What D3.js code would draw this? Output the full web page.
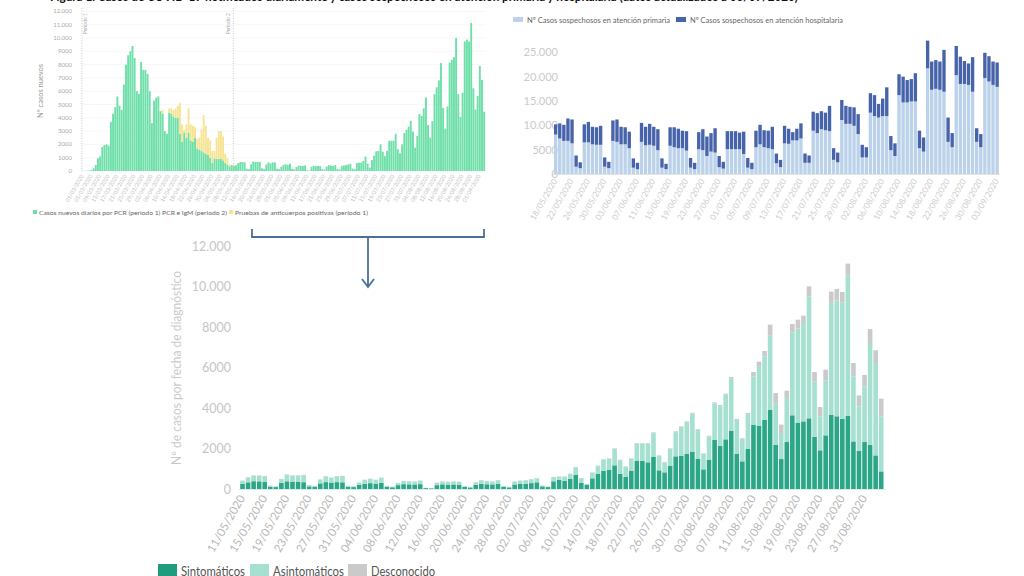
<!DOCTYPE html>
<html><head><meta charset="utf-8">
<script src="https://cdn.jsdelivr.net/npm/d3@7"></script>
<style>
body{margin:0;background:#fff}
svg{display:block}
text{font-family:Lato,"Open Sans",sans-serif}
</style>
</head><body>
<svg id="c" width="1024" height="576"></svg>
<script>
// ---------------- DATA ----------------
// Bottom chart: cases by diagnosis date, 11/05/2020 .. 03/09/2020
const bottomStart = "11/05/2020", bottomEnd = "03/09/2020";
const sintomaticos = [
 265,330,385,380,345,120,95,
 300,380,365,365,335,130,110,
 280,340,320,340,330,115,95,
 210,260,290,265,300,110,85,
 190,240,230,225,240,45,30,
 190,230,215,225,215,100,75,
 200,260,235,225,255,105,80,
 225,250,260,290,330,130,95,
 380,460,410,494,691,296,214,
 527,757,889,955,1169,757,593,
 905,1383,1390,1317,1580,922,823,
 1152,1613,1646,1745,1844,1481,971,
 1449,2436,2140,2453,2881,1728,1366,
 1975,3160,3130,3420,3920,2190,1480,
 2320,3640,3260,3340,3490,2570,1910,
 2650,3670,3590,3460,3620,2350,1890,
 2320,2190,1660,870];
const asintomaticos = [
 145,245,275,280,290,45,30,
 190,325,300,300,350,65,45,
 190,290,240,290,310,50,35,
 110,190,210,185,250,45,30,
 100,150,150,145,170,12,8,
 120,140,135,145,140,35,22,
 130,170,155,145,175,40,25,
 145,160,170,190,200,45,30,
 210,155,205,253,385,237,28,
 276,375,572,539,809,662,501,
 579,859,845,925,1178,711,485,
 821,1195,1409,1557,1886,1452,760,
 1145,1784,1948,2195,2590,1679,1096,
 1718,2400,2930,3130,3650,2020,1285,
 2170,4100,4660,4860,6020,2730,1680,
 2720,5520,5710,5760,6910,3210,2190,
 2750,5020,4560,2720];
const desconocido = [
 10,15,15,15,15,5,5,
 10,15,15,15,15,5,5,
 10,10,10,10,10,5,5,
 10,10,10,10,10,5,5,
 10,10,10,10,10,3,2,
 10,10,10,10,10,5,3,
 10,10,10,10,10,5,5,
 10,10,10,10,10,5,5,
 10,10,10,10,10,10,5,
 20,20,20,20,30,30,25,
 30,30,30,30,40,30,25,
 35,40,40,40,40,30,30,
 40,60,60,60,60,50,40,
 60,220,230,265,545,530,415,
 365,410,440,360,500,480,460,
 520,555,580,510,600,660,545,
 560,690,630,870];
const bottomTicks = ["11/05/2020","15/05/2020","19/05/2020","23/05/2020","27/05/2020","31/05/2020",
 "04/06/2020","08/06/2020","12/06/2020","16/06/2020","20/06/2020","24/06/2020","28/06/2020",
 "02/07/2020","06/07/2020","10/07/2020","14/07/2020","18/07/2020","22/07/2020","26/07/2020","30/07/2020",
 "03/08/2020","07/08/2020","11/08/2020","15/08/2020","19/08/2020","23/08/2020","27/08/2020","31/08/2020"];
const bottomYTicks = [0,2000,4000,6000,8000,10000,12000];
const bottomSeries = ["Sintomáticos","Asintomáticos","Desconocido"];

// Top-left chart: new daily cases 01/03/2020 .. 03/09/2020
const topLeftStart = "01/03/2020", topLeftEnd = "03/09/2020";
const pcrPeriodo1 = [10,15,25,45,80,200,450,950,1100,1800,1950,2000,1900,3700,4300,4800,5600,4900,4600,6500,
 8000,8700,9000,9400,8500,6000,5800,8200,7600,7600,7300,6000,3600,5300,5500,5600,4500,4300,3000,2800,
 4400,4300,4100,4000,4000,2800,2200,2900,2500,2900,2300,2200,2500,1700,1600,1500,1400,1300,1200,1000,
 600,950,900,900,900,800,600,450,350,450,400];
const anticuerposPeriodo1 = [0,0,0,0,0,0,0,0,0,0,0,0,0,0,0,0,0,0,0,0,
 0,0,0,0,0,0,0,0,0,0,0,0,0,0,0,0,0,300,0,0,
 300,400,500,700,900,2300,1300,200,1000,1800,1200,1200,800,700,900,1600,2800,2100,1300,1300,
 900,550,1600,2100,2100,1800,700,500,150,0,0];
const topLeftTicks = ["01/03/2020","05/03/2020","09/03/2020","13/03/2020","17/03/2020","21/03/2020","25/03/2020","29/03/2020",
 "02/04/2020","06/04/2020","10/04/2020","14/04/2020","18/04/2020","22/04/2020","26/04/2020","30/04/2020",
 "04/05/2020","08/05/2020","12/05/2020","16/05/2020","20/05/2020","24/05/2020","28/05/2020",
 "01/06/2020","05/06/2020","09/06/2020","13/06/2020","17/06/2020","21/06/2020","25/06/2020","29/06/2020",
 "03/07/2020","07/07/2020","11/07/2020","15/07/2020","19/07/2020","23/07/2020","27/07/2020","31/07/2020",
 "04/08/2020","08/08/2020","12/08/2020","16/08/2020","20/08/2020","24/08/2020","28/08/2020","01/09/2020"];
const topLeftYTicks = [0,1000,2000,3000,4000,5000,6000,7000,8000,9000,10000,11000,12000];
const periodMarks = [{label:"Periodo 1", date:"01/03/2020"},{label:"Periodo 2", date:"09/05/2020"}];

// Top-right chart: suspected cases 18/05/2020 .. 03/09/2020
const topRightStart = "18/05/2020", topRightEnd = "03/09/2020";
const primaria = [
 8100,7300,6800,6800,6300,1500,1200,
 6500,6500,6100,6000,6000,1500,1200,
 6800,6600,6100,6100,5300,1300,1000,
 6600,5900,6000,5800,4900,1300,1000,
 5800,5500,5300,5300,4800,1300,1000,
 5100,4900,3700,4600,4400,1400,1100,
 5100,5100,5100,5100,4100,1300,1000,
 5500,6100,5500,5300,5100,2200,1400,
 6300,6200,6900,6900,7300,2300,2300,
 8900,8400,9200,9000,8800,2900,2400,
 11100,10300,10300,9900,8200,3400,3400,
 12600,11900,11600,11900,11900,4900,3700,
 16200,14700,14700,14900,14900,5300,4600,
 21700,17300,17500,17300,16900,6600,5500,
 20300,18500,18500,18300,16900,6600,5500,
 19700,19000,18300,17900];
const hospitalaria = [
 2100,3100,3300,4600,4900,2300,1200,
 3700,4200,3600,3600,3900,1900,1300,
 4200,4600,3600,3500,3400,1900,1300,
 3900,3800,4300,3900,4300,1900,1100,
 3800,4100,4000,3600,4000,2000,1300,
 3500,4300,4000,3800,5000,2300,1400,
 3700,3700,3700,3400,4600,2000,1300,
 3400,4000,3500,3600,4600,2000,1500,
 3600,3100,1700,2400,3100,1900,1500,
 3900,4100,3700,3600,5200,2400,2000,
 4100,3700,3500,3800,4100,2600,2100,
 4000,4300,2800,3600,5900,2900,2600,
 4300,5300,4600,4600,5800,3600,2900,
 5700,5800,5900,5800,8600,5000,2900,
 6000,5600,4700,4400,7100,2800,2700,
 5200,5200,4800,5000];
const topRightTicks = ["18/05/2020","22/05/2020","26/05/2020","30/05/2020","03/06/2020","07/06/2020","11/06/2020",
 "15/06/2020","19/06/2020","23/06/2020","27/06/2020","01/07/2020","05/07/2020","09/07/2020","13/07/2020",
 "17/07/2020","21/07/2020","25/07/2020","29/07/2020","02/08/2020","06/08/2020","10/08/2020","14/08/2020",
 "18/08/2020","22/08/2020","26/08/2020","30/08/2020","03/09/2020"];
const topRightYTicks = [0,5000,10000,15000,20000,25000];
const topRightSeries = ["Nº Casos sospechosos en atención primaria","Nº Casos sospechosos en atención hospitalaria"];

const figTitle = "Figura 1. Casos de COVID-19 notificados diariamente y casos sospechosos en atención primaria y hospitalaria (datos actualizados a 03/09/2020)";

// ---------------- HELPERS ----------------
const parse = d3.utcParse("%d/%m/%Y"), fmt = d3.utcFormat("%d/%m/%Y");
const days = (a,b) => d3.utcDay.range(parse(a), d3.utcDay.offset(parse(b),1)).map(fmt);
const svg = d3.select("#c");
const fmtNum = v => v>=10000 ? d3.format(",")(v).replace(",", ".") : String(v);

// title (cut off at top edge, as in the source image)
svg.append("text").attr("x",50).attr("y",0.5).attr("font-size",13).attr("font-weight","bold")
  .attr("fill","#111").attr("textLength",748).attr("lengthAdjust","spacingAndGlyphs").text(figTitle);

// ---------------- TOP LEFT ----------------
{
  const dates = days(topLeftStart, topLeftEnd);
  const bottomDates = days(bottomStart, bottomEnd);
  const totals = bottomDates.map((d,i)=>sintomaticos[i]+asintomaticos[i]+desconocido[i]);
  const green = pcrPeriodo1.concat(totals);
  const yellow = anticuerposPeriodo1.concat(totals.map(()=>0));
  const x = d3.scaleBand().domain(dates).range([81.9,485.1]).paddingInner(0.12);
  const y = d3.scaleLinear().domain([0,12000]).range([171,11.4]);
  const g = svg.append("g");
  g.selectAll(".gl").data(topLeftYTicks.slice(1)).join("line")
    .attr("x1",82).attr("x2",486).attr("y1",d=>y(d)).attr("y2",d=>y(d))
    .attr("stroke","#f3f3f3").attr("stroke-width",0.7);
  g.selectAll(".yt").data(topLeftYTicks).join("text")
    .attr("x",72).attr("y",d=>y(d)+2).attr("text-anchor","end").attr("font-size",6)
    .attr("fill","#aaa").text(fmtNum);
  g.append("text").attr("transform","translate(43,91) rotate(-90)").attr("text-anchor","middle")
    .attr("font-size",7.5).attr("fill","#999").text("Nº casos nuevos");
  g.selectAll(".gb").data(dates).join("rect")
    .attr("x",d=>x(d)).attr("width",x.bandwidth())
    .attr("y",(d,i)=>y(green[i])).attr("height",(d,i)=>y(0)-y(green[i])).attr("fill","#6fdfa9");
  g.selectAll(".yb").data(dates).join("rect")
    .attr("x",d=>x(d)).attr("width",x.bandwidth())
    .attr("y",(d,i)=>y(green[i]+yellow[i])).attr("height",(d,i)=>y(green[i])-y(green[i]+yellow[i])).attr("fill","#f7e493");
  periodMarks.forEach(p=>{
    const px = x(p.date) + (p.label==="Periodo 1" ? 0 : x.step()*1.2);
    g.append("line").attr("x1",px).attr("x2",px).attr("y1",8).attr("y2",172)
      .attr("stroke","#bbb").attr("stroke-width",0.8).attr("stroke-dasharray","1,1.5");
    const tx = p.label==="Periodo 1" ? px+5 : px-3;
    g.append("text").attr("transform",`translate(${tx},13) rotate(-90)`).attr("text-anchor","end")
      .attr("font-size",5).attr("fill","#aaa").text(p.label);
  });
  g.selectAll(".xt").data(topLeftTicks).join("text")
    .attr("transform",d=>`translate(${x(d)+x.bandwidth()/2+1},176) rotate(-60)`)
    .attr("text-anchor","end").attr("font-size",5.5).attr("fill","#bdbdbd").text(d=>d);
  // legend
  const lg = g.append("g").attr("transform","translate(33,213)");
  lg.append("rect").attr("x",0).attr("y",-3).attr("width",4).attr("height",4).attr("fill","#6fdfa9");
  lg.append("text").attr("x",6).attr("y",1.5).attr("font-size",6.3).attr("fill","#666")
    .attr("textLength",188).attr("lengthAdjust","spacingAndGlyphs")
    .text("Casos nuevos diarios por PCR (periodo 1) PCR e IgM (periodo 2)");
  lg.append("rect").attr("x",196).attr("y",-3).attr("width",4).attr("height",4).attr("fill","#f7e493");
  lg.append("text").attr("x",202).attr("y",1.5).attr("font-size",6.3).attr("fill","#666")
    .attr("textLength",133).attr("lengthAdjust","spacingAndGlyphs")
    .text("Pruebas de anticuerpos positivas (periodo 1)");
}

// ---------------- TOP RIGHT ----------------
{
  const dates = days(topRightStart, topRightEnd);
  const x = d3.scaleBand().domain(dates).range([554,998.8]).paddingInner(0.18);
  const y = d3.scaleLinear().domain([0,25000]).range([174,52.3]);
  const g = svg.append("g");
  g.selectAll(".yt").data(topRightYTicks).join("text")
    .attr("x",558).attr("y",d=>y(d)+4).attr("text-anchor","end").attr("font-size",11)
    .attr("fill","#cacaca").text(fmtNum);
  const stack = d3.stack().keys([0,1]).value((d,k)=>[primaria,hospitalaria][k][d])(d3.range(dates.length));
  const cols = ["#bbd2ea","#4763aa"];
  stack.forEach((s,k)=>{
    g.selectAll(".b"+k).data(s).join("rect")
      .attr("x",(d,i)=>x(dates[i])).attr("width",x.bandwidth())
      .attr("y",d=>y(d[1])).attr("height",d=>y(d[0])-y(d[1])).attr("fill",cols[k]);
  });
  g.append("line").attr("x1",553).attr("x2",1000).attr("y1",y(0)+0.5).attr("y2",y(0)+0.5)
    .attr("stroke","#e2e2e2").attr("stroke-width",1);
  g.selectAll(".xt").data(topRightTicks).join("text")
    .attr("transform",d=>`translate(${x(d)+x.bandwidth()/2+2},181) rotate(-60)`)
    .attr("text-anchor","end").attr("font-size",8.3).attr("fill","#cdcdcd").text(d=>d);
  const lg = g.append("g").attr("transform","translate(513,20)");
  lg.append("rect").attr("x",0).attr("y",-3).attr("width",10).attr("height",5).attr("fill",cols[0]);
  lg.append("text").attr("x",14).attr("y",2.5).attr("font-size",7.5).attr("fill","#666")
    .attr("textLength",143).attr("lengthAdjust","spacingAndGlyphs").text(topRightSeries[0]);
  lg.append("rect").attr("x",163).attr("y",-3).attr("width",10).attr("height",5).attr("fill",cols[1]);
  lg.append("text").attr("x",177).attr("y",2.5).attr("font-size",7.5).attr("fill","#666")
    .attr("textLength",153).attr("lengthAdjust","spacingAndGlyphs").text(topRightSeries[1]);
}

// ---------------- BRACKET ARROW ----------------
{
  const c = "#4a6f98";
  svg.append("path").attr("d","M252,229 V237 H484 V229").attr("fill","none").attr("stroke",c).attr("stroke-width",1.8);
  svg.append("path").attr("d","M368,237 V286").attr("fill","none").attr("stroke",c).attr("stroke-width",1.8);
  svg.append("path").attr("d","M362,279 L368,287 L374,279").attr("fill","none").attr("stroke",c).attr("stroke-width",1.8);
}

// ---------------- BOTTOM ----------------
{
  const dates = days(bottomStart, bottomEnd);
  const x = d3.scaleBand().domain(dates).range([240.2,883.5]).paddingInner(0.17);
  const y = d3.scaleLinear().domain([0,12000]).range([489,246]);
  const g = svg.append("g");
  g.selectAll(".yt").data(bottomYTicks).join("text")
    .attr("x",231).attr("y",d=>y(d)+4.5).attr("text-anchor","end").attr("font-size",12.5)
    .attr("fill","#c6c6c6").text(fmtNum);
  g.append("text").attr("transform","translate(181,368) rotate(-90)").attr("text-anchor","middle")
    .attr("font-size",12.5).attr("fill","#cacaca").attr("textLength",194).attr("lengthAdjust","spacingAndGlyphs")
    .text("Nº de casos por fecha de diagnóstico");
  const stack = d3.stack().keys([0,1,2]).value((d,k)=>[sintomaticos,asintomaticos,desconocido][k][d])(d3.range(dates.length));
  const cols = ["#2ba687","#a5e0d1","#cacaca"];
  stack.forEach((s,k)=>{
    g.selectAll(".b"+k).data(s).join("rect")
      .attr("x",(d,i)=>x(dates[i])).attr("width",x.bandwidth())
      .attr("y",d=>y(d[1])).attr("height",d=>y(d[0])-y(d[1])).attr("fill",cols[k]);
  });
  g.append("line").attr("x1",238).attr("x2",886).attr("y1",489.5).attr("y2",489.5).attr("stroke","#d9efe8");
  g.selectAll(".xt").data(bottomTicks).join("text")
    .attr("transform",d=>`translate(${x(d)+x.bandwidth()/2+3},498) rotate(-60)`)
    .attr("text-anchor","end").attr("font-size",11.5).attr("fill","#b8b8b8").text(d=>d);
  const lg = g.append("g").attr("transform","translate(158,564)");
  const items = [{t:bottomSeries[0],x:0,w:64,c:"#1f9c7c"},{t:bottomSeries[1],x:92,w:71,c:cols[1]},{t:bottomSeries[2],x:190,w:64,c:cols[2]}];
  items.forEach(it=>{
    lg.append("rect").attr("x",it.x).attr("y",0).attr("width",19).attr("height",12).attr("fill",it.c);
    lg.append("text").attr("x",it.x+23).attr("y",11.5).attr("font-size",14).attr("fill","#555")
      .attr("textLength",it.w).attr("lengthAdjust","spacingAndGlyphs").text(it.t);
  });
}
</script>
</body></html>
